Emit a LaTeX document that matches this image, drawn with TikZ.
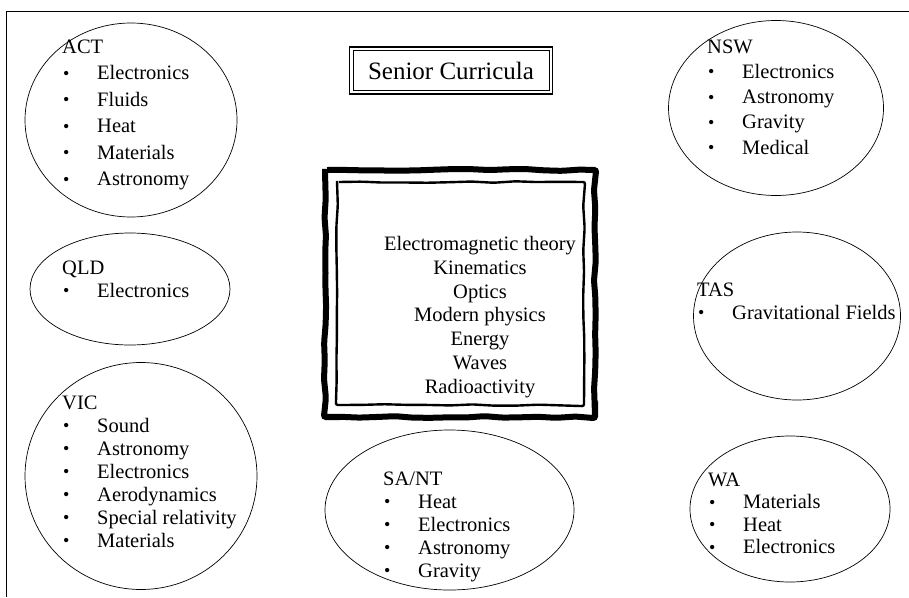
\documentclass[tikz,border=0pt]{standalone}
\usepackage{fontspec}
\setmainfont{Liberation Serif}
\usetikzlibrary{shapes.geometric,decorations.pathmorphing}

% one state: label on top, bulleted topics below
\newcommand{\topiclist}[2]{%
  \begin{tabular}[t]{@{}p{35pt}@{}l@{}}
    \multicolumn{2}{@{}l@{}}{#1}\\
    #2
  \end{tabular}}
\newcommand{\itm}[1]{\hspace*{1pt}\raisebox{0.5pt}{\fontsize{18}{18}\selectfont\textbullet} & #1\\}

\begin{document}
\begin{tikzpicture}[x=1pt, y=-1pt,
    region/.style={draw, ellipse, inner sep=0pt, line width=0.7pt},
    topics/.style={anchor=base west, inner sep=0pt, font=\fontsize{20.5}{#1}\selectfont},
    topics/.default=23,
    core/.style={align=center, inner sep=0pt, font=\fontsize{20.5}{23.7}\selectfont}]
  \useasboundingbox (0,0) rectangle (909,597);
  \pgfmathsetseed{11}

  % page frame
  \draw[line width=0.8pt] (909,11) -- (6,11) -- (6,597);

  % title
  \node[minimum width=203pt, minimum height=47pt, draw, line width=1.3pt] (title) at (451,70.5) {};
  \node[minimum width=196pt, minimum height=40pt, draw, line width=0.6pt, font=\fontsize{25}{28}\selectfont] (titletext) at (title.center) {Senior Curricula};

  % core topics in the wavy frame
  \node[core] (common) at (480,317) {Electromagnetic theory\\ Kinematics\\ Optics\\ Modern physics\\ Energy\\ Waves\\ Radioactivity};
  \draw[line width=6pt, rounded corners=2pt, decorate, decoration={random steps, segment length=18pt, amplitude=1.2pt}]
    (325,170) -- (595,170) -- (595,417) -- (325,417) -- cycle;
  \draw[line width=2.4pt, rounded corners=2pt, decorate, decoration={random steps, segment length=22pt, amplitude=0.8pt}]
    (337,182) -- (584,182) -- (584,405) -- (337,405) -- cycle;

  % states
  \node[region, minimum width=212pt, minimum height=194pt] (act) at (131,120) {};
  \node[topics=26.5] (actlist) at (62,53) {\topiclist{ACT}{\itm{Electronics}\itm{Fluids}\itm{Heat}\itm{Materials}\itm{Astronomy}}};

  \node[region, minimum width=200pt, minimum height=112pt] (qld) at (130,289) {};
  \node[topics] (qldlist) at (62,274) {\topiclist{QLD}{\itm{Electronics}}};

  \node[region, minimum width=232pt, minimum height=227pt] (vic) at (141,476) {};
  \node[topics] (viclist) at (62,409) {\topiclist{VIC}{\itm{Sound}\itm{Astronomy}\itm{Electronics}\itm{Aerodynamics}\itm{Special relativity}\itm{Materials}}};

  \node[region, minimum width=249pt, minimum height=160pt] (sant) at (449.5,510) {};
  \node[topics] (santlist) at (383,485) {\topiclist{SA/NT}{\itm{Heat}\itm{Electronics}\itm{Astronomy}\itm{Gravity}}};

  \node[region, minimum width=215pt, minimum height=175pt] (nsw) at (776,108) {};
  \node[topics=25.3] (nswlist) at (707,53) {\topiclist{NSW}{\itm{Electronics}\itm{Astronomy}\itm{Gravity}\itm{Medical}}};

  \node[region, minimum width=207pt, minimum height=168pt] (tas) at (797,316) {};
  \node[topics] (taslist) at (697,296) {\topiclist{TAS}{\itm{Gravitational Fields}}};

  \node[region, minimum width=200pt, minimum height=146pt] (wa) at (790,509) {};
  \node[topics=22.5] (walist) at (708,486) {\topiclist{WA}{\itm{Materials}\itm{Heat}\itm{Electronics}}};
\end{tikzpicture}
\end{document}
